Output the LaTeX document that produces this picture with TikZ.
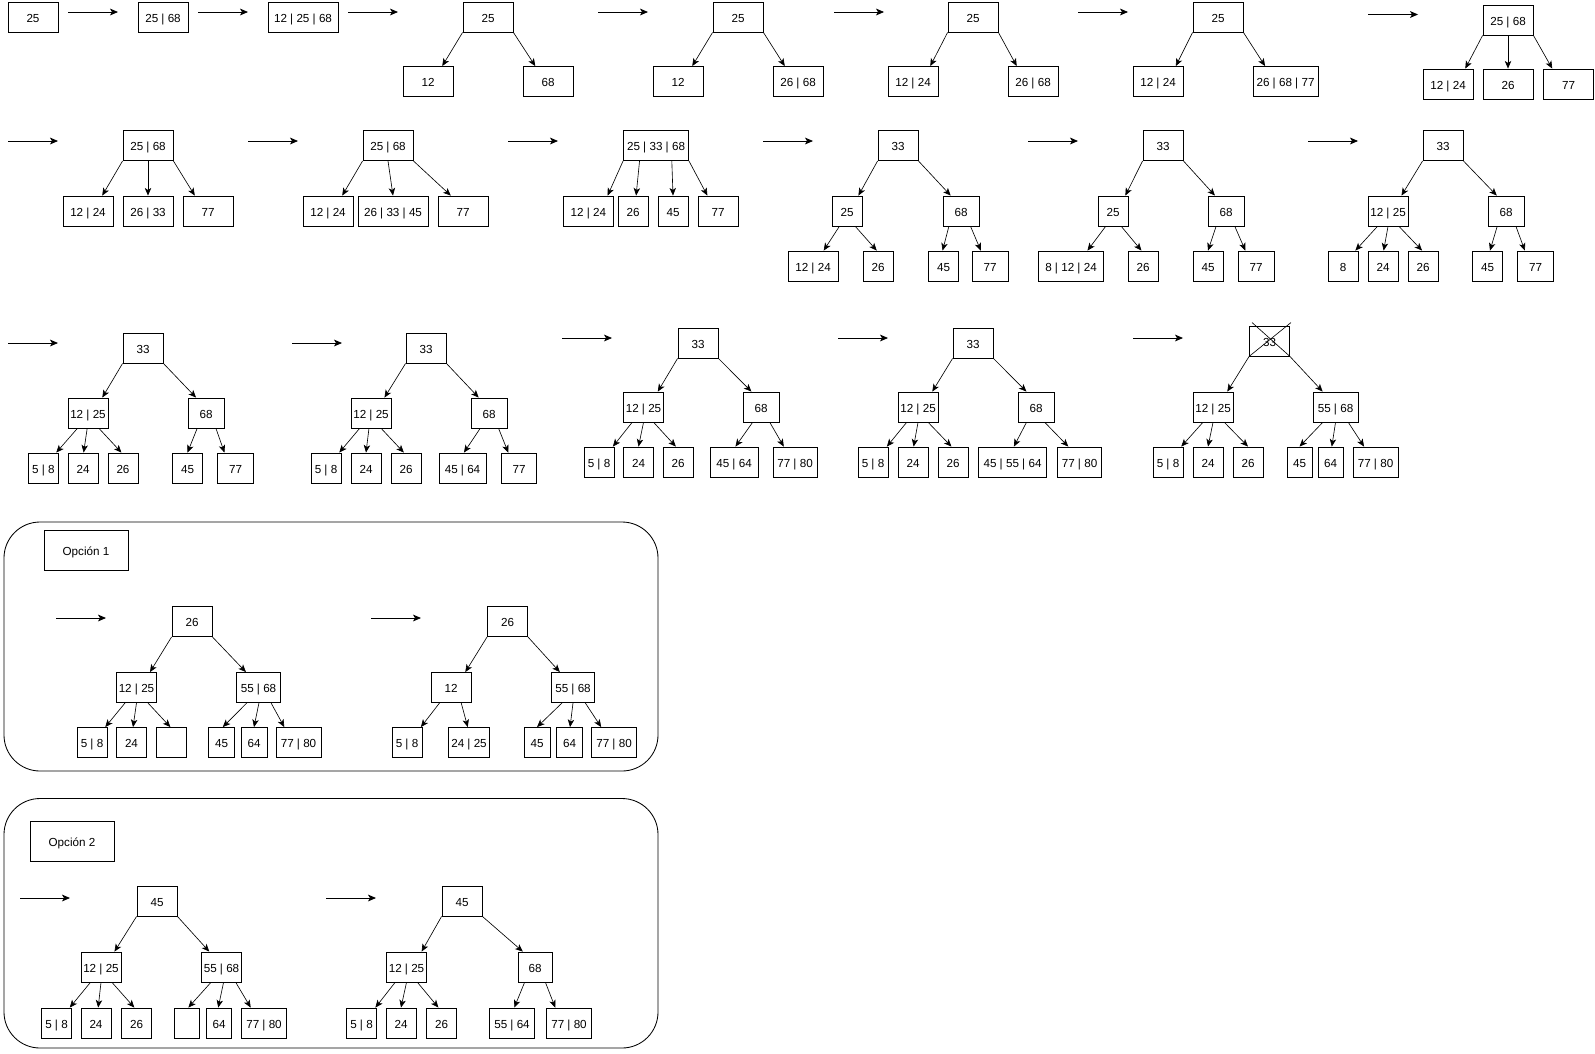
\documentclass[tikz,border=0pt]{standalone}
\usepackage{fontspec}
\setmainfont{Liberation Sans}
\usepackage{tikz}
\usetikzlibrary{arrows.meta,calc}

\newcommand{\keyfont}{\fontsize{8.3}{9.5}\selectfont}
\newcommand{\treeedge}[4]{\draw[link] ($(#1.south west)!#2!(#1.south east)$) -- ($(#3.north west)!#4!(#3.north east)$);}

\tikzset{
  keybox/.style={draw, rectangle, line width=0.6pt, inner sep=0pt, minimum height=0.75cm,
    text height=0.72em, text depth=0pt, font=\keyfont},
  wd/.style={minimum width=#1*0.025cm},
  link/.style={-{Stealth[length=0.19cm,width=0.16cm,inset=0.05cm]}, line width=0.45pt},
  flow/.style={-{Stealth[length=0.2cm,width=0.17cm,inset=0.05cm]}, line width=0.6pt},
  panel/.style={draw, line width=0.6pt, rounded corners=0.9cm},
}

\begin{document}
\begin{tikzpicture}[x=0.025cm,y=-0.025cm]
\useasboundingbox (0,0) rectangle (1595,1053);

% arrows between the steps
\foreach \x/\y [count=\i] in {68/12, 198/12, 348/12, 598/12, 834/12, 1078/12, 1368/14.5,
  8/141, 248/141, 508/141, 763/141, 1028/141, 1308/141,
  8/343, 292/343, 562/338, 838/338, 1133/338,
  56/618, 371/618, 20/898, 326/898} {
  \coordinate (fs\i) at (\x,\y);
  \coordinate (fe\i) at (\x+50,\y);
  \draw[flow] (fs\i) -- (fe\i);
}

% row 1
\node[keybox, wd=50] (st1) at (33,17) {25};
\node[keybox, wd=50] (st2) at (163,17) {25 | 68};
\node[keybox, wd=70] (st3) at (303,17) {12 | 25 | 68};

\node[keybox, wd=50] (ar) at (488,17) {25};
\node[keybox, wd=50] (a1) at (428,81.5) {12};
\node[keybox, wd=50] (a2) at (548,81.5) {68};
\foreach \pa/\pf/\ch/\cf in {ar/0/a1/.78, ar/1/a2/.25} {\treeedge{\pa}{\pf}{\ch}{\cf}}

\node[keybox, wd=50] (br) at (738,17) {25};
\node[keybox, wd=50] (b1) at (678,81.5) {12};
\node[keybox, wd=50] (b2) at (798,81.5) {26 | 68};
\foreach \pa/\pf/\ch/\cf in {br/0/b1/.78, br/1/b2/.24} {\treeedge{\pa}{\pf}{\ch}{\cf}}

\node[keybox, wd=50] (cr) at (973,17) {25};
\node[keybox, wd=50] (c1) at (913,81.5) {12 | 24};
\node[keybox, wd=50] (c2) at (1033,81.5) {26 | 68};
\foreach \pa/\pf/\ch/\cf in {cr/0/c1/.84, cr/1/c2/.18} {\treeedge{\pa}{\pf}{\ch}{\cf}}

\node[keybox, wd=50] (dr) at (1218,17) {25};
\node[keybox, wd=50] (d1) at (1158,81.5) {12 | 24};
\node[keybox, wd=65] (d2) at (1285.5,81.5) {26 | 68 | 77};
\foreach \pa/\pf/\ch/\cf in {dr/0/d1/.85, dr/1/d2/.19} {\treeedge{\pa}{\pf}{\ch}{\cf}}

\node[keybox, wd=50] (er) at (1508,20) {25 | 68};
\node[keybox, wd=50] (e1) at (1448,84) {12 | 24};
\node[keybox, wd=50] (e2) at (1508,84) {26};
\node[keybox, wd=50] (e3) at (1568.5,84) {77};
\foreach \pa/\pf/\ch/\cf in {er/0/e1/.84, er/.5/e2/.5, er/1/e3/.18} {\treeedge{\pa}{\pf}{\ch}{\cf}}

% row 2
\node[keybox, wd=50] (fr) at (148,145.5) {25 | 68};
\node[keybox, wd=50] (f1) at (88,211) {12 | 24};
\node[keybox, wd=50] (f2) at (148,211) {26 | 33};
\node[keybox, wd=50] (f3) at (208,211) {77};
\foreach \pa/\pf/\ch/\cf in {fr/0/f1/.78, fr/.5/f2/.5, fr/1/f3/.24} {\treeedge{\pa}{\pf}{\ch}{\cf}}

\node[keybox, wd=50] (gr) at (388,145.5) {25 | 68};
\node[keybox, wd=50] (g1) at (328,211) {12 | 24};
\node[keybox, wd=70] (g2) at (393,211) {26 | 33 | 45};
\node[keybox, wd=50] (g3) at (463,211) {77};
\foreach \pa/\pf/\ch/\cf in {gr/0/g1/.78, gr/.5/g2/.5, gr/1/g3/.26} {\treeedge{\pa}{\pf}{\ch}{\cf}}

\node[keybox, wd=65] (hr) at (656,145.5) {25 | 33 | 68};
\node[keybox, wd=50] (h1) at (588.3,211) {12 | 24};
\node[keybox, wd=30] (h2) at (633,211) {26};
\node[keybox, wd=30] (h3) at (673,211) {45};
\node[keybox, wd=40] (h4) at (718,211) {77};
\foreach \pa/\pf/\ch/\cf in {hr/0/h1/.88, hr/.25/h2/.6, hr/.74/h3/.5, hr/1/h4/.24} {\treeedge{\pa}{\pf}{\ch}{\cf}}

\node[keybox, wd=40] (ir) at (898,145.5) {33};
\node[keybox, wd=30] (i1) at (847,211) {25};
\node[keybox, wd=36] (i2) at (961,211) {68};
\node[keybox, wd=50] (i11) at (813,266) {12 | 24};
\node[keybox, wd=30] (i12) at (878,266) {26};
\node[keybox, wd=30] (i21) at (943.5,266) {45};
\node[keybox, wd=36] (i22) at (990,266) {77};
\foreach \pa/\pf/\ch/\cf in {ir/0/i1/.87, ir/1/i2/.22, i1/.25/i11/.71, i1/.77/i12/.46,
  i2/.17/i21/.47, i2/.76/i22/.25} {\treeedge{\pa}{\pf}{\ch}{\cf}}

\node[keybox, wd=40] (jr) at (1163,145.5) {33};
\node[keybox, wd=30] (j1) at (1113,211) {25};
\node[keybox, wd=36] (j2) at (1226,211) {68};
\node[keybox, wd=65] (j11) at (1071,266) {8 | 12 | 24};
\node[keybox, wd=30] (j12) at (1143,266) {26};
\node[keybox, wd=30] (j21) at (1208,266) {45};
\node[keybox, wd=36] (j22) at (1256,266) {77};
\foreach \pa/\pf/\ch/\cf in {jr/0/j1/.9, jr/1/j2/.2, j1/.26/j11/.75, j1/.77/j12/.45,
  j2/.23/j21/.5, j2/.74/j22/.21} {\treeedge{\pa}{\pf}{\ch}{\cf}}

\node[keybox, wd=40] (kr) at (1443,145.5) {33};
\node[keybox, wd=40] (k1) at (1388,211) {12 | 25};
\node[keybox, wd=36] (k2) at (1506,211) {68};
\node[keybox, wd=30] (k11) at (1343,266) {8};
\node[keybox, wd=30] (k12) at (1383,266) {24};
\node[keybox, wd=30] (k13) at (1423,266) {26};
\node[keybox, wd=30] (k21) at (1487.5,266) {45};
\node[keybox, wd=36] (k22) at (1535.5,266) {77};
\foreach \pa/\pf/\ch/\cf in {kr/0/k1/.83, kr/1/k2/.25, k1/.24/k11/.9, k1/.5/k12/.52,
  k1/.77/k13/.47, k2/.26/k21/.58, k2/.77/k22/.21} {\treeedge{\pa}{\pf}{\ch}{\cf}}

% row 3
\node[keybox, wd=40] (lr) at (143,348) {33};
\node[keybox, wd=40] (l1) at (88,413) {12 | 25};
\node[keybox, wd=36] (l2) at (206,413) {68};
\node[keybox, wd=30] (l11) at (43.3,468) {5 | 8};
\node[keybox, wd=30] (l12) at (83,468) {24};
\node[keybox, wd=30] (l13) at (123,468) {26};
\node[keybox, wd=30] (l21) at (187.5,468) {45};
\node[keybox, wd=36] (l22) at (235.5,468) {77};
\foreach \pa/\pf/\ch/\cf in {lr/0/l1/.85, lr/1/l2/.23, l1/.24/l11/.92, l1/.48/l12/.52,
  l1/.77/l13/.45, l2/.26/l21/.5, l2/.77/l22/.2} {\treeedge{\pa}{\pf}{\ch}{\cf}}

\node[keybox, wd=40] (mr) at (426,348) {33};
\node[keybox, wd=40] (m1) at (371,413) {12 | 25};
\node[keybox, wd=36] (m2) at (489,413) {68};
\node[keybox, wd=30] (m11) at (326,468) {5 | 8};
\node[keybox, wd=30] (m12) at (366,468) {24};
\node[keybox, wd=30] (m13) at (406,468) {26};
\node[keybox, wd=47] (m21) at (462.5,468) {45 | 64};
\node[keybox, wd=35] (m22) at (519,468) {77};
\foreach \pa/\pf/\ch/\cf in {mr/0/m1/.83, mr/1/m2/.22, m1/.22/m11/.93, m1/.45/m12/.5,
  m1/.75/m13/.43, m2/.26/m21/.53, m2/.76/m22/.2} {\treeedge{\pa}{\pf}{\ch}{\cf}}

\node[keybox, wd=40] (nr) at (698,343) {33};
\node[keybox, wd=40] (n1) at (643.5,407) {12 | 25};
\node[keybox, wd=36] (n2) at (761,407) {68};
\node[keybox, wd=30] (n11) at (599,462) {5 | 8};
\node[keybox, wd=30] (n12) at (638.5,462) {24};
\node[keybox, wd=30] (n13) at (678,462) {26};
\node[keybox, wd=48] (n21) at (734,462) {45 | 64};
\node[keybox, wd=44] (n22) at (795,462) {77 | 80};
\foreach \pa/\pf/\ch/\cf in {nr/0/n1/.85, nr/1/n2/.24, n1/.22/n11/.95, n1/.5/n12/.5,
  n1/.75/n13/.43, n2/.27/n21/.53, n2/.74/n22/.25} {\treeedge{\pa}{\pf}{\ch}{\cf}}

\node[keybox, wd=40] (or) at (973,343) {33};
\node[keybox, wd=40] (o1) at (918,407) {12 | 25};
\node[keybox, wd=36] (o2) at (1036,407) {68};
\node[keybox, wd=30] (o11) at (873,462) {5 | 8};
\node[keybox, wd=30] (o12) at (913,462) {24};
\node[keybox, wd=30] (o13) at (953,462) {26};
\node[keybox, wd=68] (o21) at (1012.5,462) {45 | 55 | 64};
\node[keybox, wd=44] (o22) at (1079.5,462) {77 | 80};
\foreach \pa/\pf/\ch/\cf in {or/0/o1/.85, or/1/o2/.24, o1/.22/o11/.95, o1/.5/o12/.52,
  o1/.75/o13/.45, o2/.24/o21/.52, o2/.74/o22/.25} {\treeedge{\pa}{\pf}{\ch}{\cf}}

\node[keybox, wd=40] (pr) at (1269.5,341) {33};
\draw[line width=0.45pt] ($(pr.north west)+(3,-3)$) -- (pr.south east)
  ($(pr.north east)+(1,-3)$) -- (pr.south west);
\node[keybox, wd=40] (p1) at (1213,407) {12 | 25};
\node[keybox, wd=45] (p2) at (1335.5,407) {55 | 68};
\node[keybox, wd=30] (p11) at (1168,462) {5 | 8};
\node[keybox, wd=30] (p12) at (1208,462) {24};
\node[keybox, wd=30] (p13) at (1248,462) {26};
\node[keybox, wd=25] (p21) at (1299.5,462) {45};
\node[keybox, wd=25] (p22) at (1330.5,462) {64};
\node[keybox, wd=45] (p23) at (1375.5,462) {77 | 80};
\foreach \pa/\pf/\ch/\cf in {pr/0/p1/.85, pr/1/p2/.22, p1/.25/p11/.93, p1/.5/p12/.5,
  p1/.78/p13/.5, p2/.22/p21/.5, p2/.5/p22/.55, p2/.78/p23/.25} {\treeedge{\pa}{\pf}{\ch}{\cf}}

% option 1
\draw[panel] (4,522) rectangle (658,771);
\node[keybox, minimum width=2.1cm, minimum height=1cm] (opt1) at (86,550) {Opción 1};

\node[keybox, wd=40] (qr) at (192,621.5) {26};
\node[keybox, wd=40] (q1) at (136.5,687.5) {12 | 25};
\node[keybox, wd=44] (q2) at (258.5,687.5) {55 | 68};
\node[keybox, wd=30] (q11) at (92,742.5) {5 | 8};
\node[keybox, wd=30] (q12) at (131.5,742.5) {24};
\node[keybox, wd=30] (q13) at (171.3,742.5) {};
\node[keybox, wd=26] (q21) at (221.7,742.5) {45};
\node[keybox, wd=26] (q22) at (254,742.5) {64};
\node[keybox, wd=45] (q23) at (298.5,742.5) {77 | 80};
\foreach \pa/\pf/\ch/\cf in {qr/0/q1/.83, qr/1/q2/.22, q1/.22/q11/.93, q1/.5/q12/.55,
  q1/.78/q13/.47, q2/.24/q21/.54, q2/.51/q22/.5, q2/.78/q23/.19} {\treeedge{\pa}{\pf}{\ch}{\cf}}

\node[keybox, wd=40] (rr) at (507.5,621.5) {26};
\node[keybox, wd=40] (r1) at (451,687.5) {12};
\node[keybox, wd=43] (r2) at (573,687.5) {55 | 68};
\node[keybox, wd=30] (r11) at (407,742.5) {5 | 8};
\node[keybox, wd=41] (r12) at (469,742.5) {24 | 25};
\node[keybox, wd=26] (r21) at (537,742.5) {45};
\node[keybox, wd=26] (r22) at (569.5,742.5) {64};
\node[keybox, wd=45] (r23) at (614,742.5) {77 | 80};
\foreach \pa/\pf/\ch/\cf in {rr/0/r1/.85, rr/1/r2/.2, r1/.22/r11/.95, r1/.75/r12/.47,
  r2/.25/r21/.5, r2/.5/r22/.52, r2/.78/r23/.22} {\treeedge{\pa}{\pf}{\ch}{\cf}}

% option 2
\draw[panel] (4,798.5) rectangle (658,1048);
\node[keybox, minimum width=2.1cm, minimum height=1cm] (opt2) at (72,841) {Opción 2};

\node[keybox, wd=40] (sr) at (157,901) {45};
\node[keybox, wd=40] (s1) at (101,967) {12 | 25};
\node[keybox, wd=40] (s2) at (221.5,967) {55 | 68};
\node[keybox, wd=30] (s11) at (56.5,1023) {5 | 8};
\node[keybox, wd=30] (s12) at (96,1023) {24};
\node[keybox, wd=30] (s13) at (136.5,1023) {26};
\node[keybox, wd=25] (s21) at (187,1023) {};
\node[keybox, wd=25] (s22) at (219,1023) {64};
\node[keybox, wd=45] (s23) at (264,1023) {77 | 80};
\foreach \pa/\pf/\ch/\cf in {sr/0/s1/.83, sr/1/s2/.2, s1/.24/s11/.93, s1/.5/s12/.57,
  s1/.77/s13/.43, s2/.24/s21/.55, s2/.55/s22/.47, s2/.85/s23/.21} {\treeedge{\pa}{\pf}{\ch}{\cf}}

\node[keybox, wd=40] (tr) at (462,901) {45};
\node[keybox, wd=40] (t1) at (406.5,967) {12 | 25};
\node[keybox, wd=34] (t2) at (535,967) {68};
\node[keybox, wd=30] (t11) at (361.5,1023) {5 | 8};
\node[keybox, wd=30] (t12) at (401,1023) {24};
\node[keybox, wd=30] (t13) at (441.5,1023) {26};
\node[keybox, wd=45] (t21) at (512,1023) {55 | 64};
\node[keybox, wd=45] (t22) at (569,1023) {77 | 80};
\foreach \pa/\pf/\ch/\cf in {tr/0/t1/.87, tr/1/t2/.15, t1/.22/t11/.95, t1/.5/t12/.5,
  t1/.77/t13/.4, t2/.2/t21/.55, t2/.8/t22/.2} {\treeedge{\pa}{\pf}{\ch}{\cf}}
\end{tikzpicture}
\end{document}
